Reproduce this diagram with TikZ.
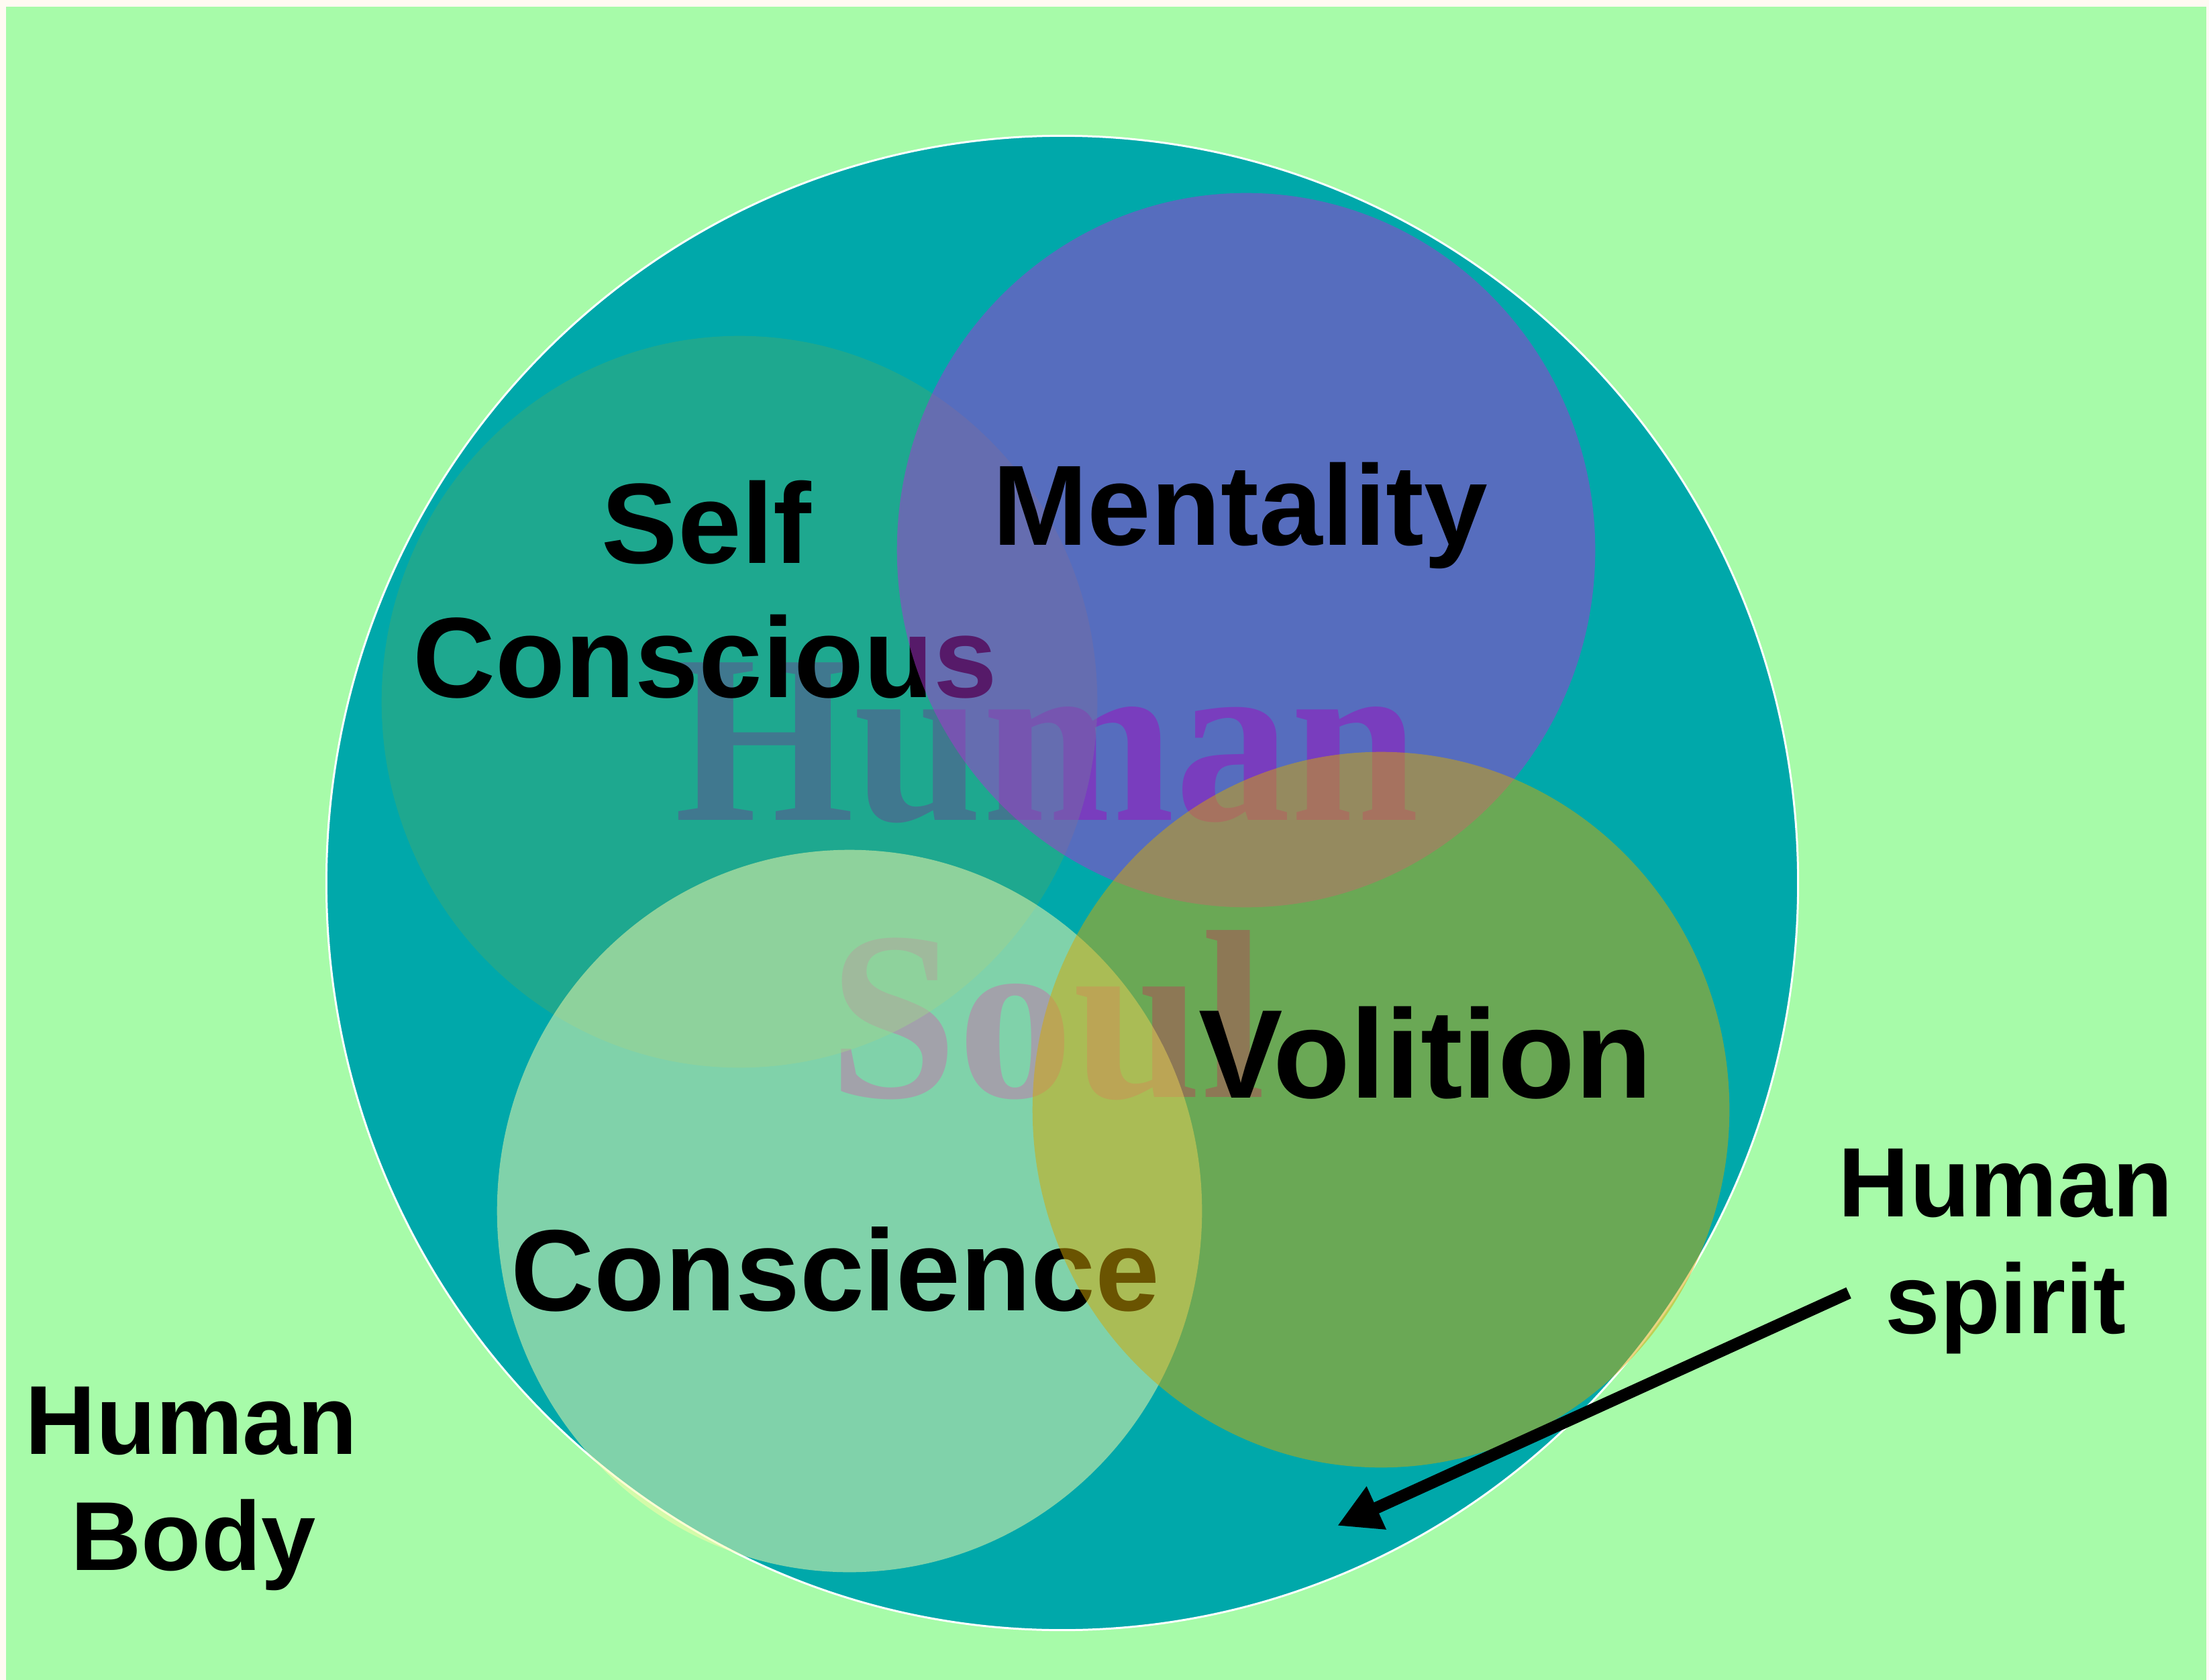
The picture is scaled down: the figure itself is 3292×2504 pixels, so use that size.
\documentclass[tikz,border=0pt]{standalone}
\usepackage{fontspec}
\setmainfont{Liberation Sans}
\newfontfamily\soulfont{Liberation Serif}
\usetikzlibrary{arrows.meta}
\definecolor{margincol}{RGB}{255,250,242}
\definecolor{bodygreen}{RGB}{167,251,169}
\definecolor{spiritteal}{RGB}{0,168,170}
\definecolor{soultext}{RGB}{70,72,170}
\definecolor{selfcol}{RGB}{60,168,118}
\definecolor{mentcol}{RGB}{172,52,210}
\definecolor{conscol}{RGB}{255,252,170}
\definecolor{volcol}{RGB}{212,168,2}
\tikzset{
  lbl/.style={inner sep=0pt, anchor=base, text=black, font=\bfseries\fontsize{#1}{#1}\selectfont},
  soulword/.style={inner sep=0pt, anchor=base, text=soultext, xscale=0.96,
     font=\soulfont\bfseries\fontsize{102pt}{102pt}\selectfont},
  part/.style={fill=#1, fill opacity=0.5}
}
\begin{document}
\begin{tikzpicture}[x=0.01cm, y=-0.01cm]
\useasboundingbox (0,0) rectangle (3292,2504);
\fill[margincol] (0,0) rectangle (3292,2504);
\fill[bodygreen] (9,10) rectangle (3288,2504);
% human spirit (big circle)
\filldraw[fill=spiritteal, draw=white, line width=0.85pt] (1583,1316) ellipse [x radius=10.96cm, y radius=11.13cm];
% Human Soul text
\node[soulword] (soul1) at (1560,1222) {Human};
\node[soulword] (soul2) at (1561,1635) {Soul};
% Self conscious
\fill[part=selfcol] (1102,1046) ellipse [x radius=5.33cm, y radius=5.45cm];
\node[lbl=48.4pt] (self1) at (1053,840) {Self};
\node[lbl=48.4pt] (self2) at (1051,1039) {Conscious};
% Mentality
\fill[part=mentcol] (1857,820) ellipse [x radius=5.20cm, y radius=5.32cm];
\node[lbl=48.4pt] (ment) at (1848,812) {Mentality};
% Conscience
\fill[part=conscol] (1266,1805) ellipse [x radius=5.25cm, y radius=5.38cm];
\node[lbl=49pt] (consc) at (1245,1953) {Conscience};
% Volition
\fill[part=volcol] (2058,1654) ellipse [x radius=5.19cm, y radius=5.33cm];
\node[lbl=53.5pt] (vol) at (2124,1636) {Volition};
% outer labels
\node[lbl=41.8pt] (spirit1) at (2989,1813) {Human};
\node[lbl=41.8pt] (spirit2) at (2989,1987) {spirit};
\node[lbl=41.5pt] (body1) at (285,2167) {Human};
\node[lbl=41.5pt] (body2) at (288,2340) {Body};
% arrow
\coordinate (arrowtail) at (2755,1927);
\coordinate (arrowtip) at (1993,2274);
\draw[line width=5.1pt, -{Triangle[length=6.4mm,width=6.6mm]}] (arrowtail) -- (arrowtip);
\end{tikzpicture}
\end{document}
